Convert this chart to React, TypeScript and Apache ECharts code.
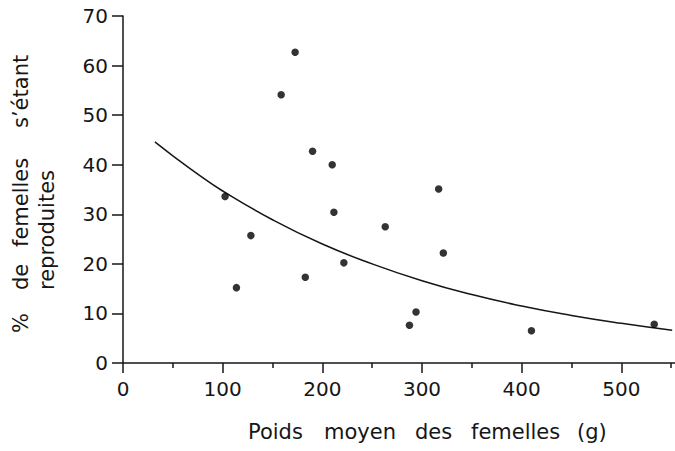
import React, { useEffect, useRef } from "react";
import * as echarts from "echarts";

// Tick labels
const xTickLabels = [0, 100, 200, 300, 400, 500];
const yTickLabels = [0, 10, 20, 30, 40, 50, 60, 70];

// Observed points: mean female weight (g) vs % of females that reproduced
const weightG = [172.7, 158.7, 190.2, 209.9, 102.4, 211.6, 128.3, 221.6, 182.9, 113.8, 316.7, 263.1, 321.4, 294.0, 287.4, 409.8, 533.0];
const pctReproduced = [62.7, 54.1, 42.7, 40.0, 33.6, 30.4, 25.7, 20.2, 17.3, 15.2, 35.1, 27.5, 22.2, 10.3, 7.6, 6.5, 7.8];

// Fitted curve
const curveWeight = [32, 50, 75, 100, 150, 200, 250, 300, 350, 400, 450, 500, 551];
const curvePct = [44.6, 41.8, 38.1, 34.7, 28.9, 24.0, 20.0, 16.6, 13.8, 11.5, 9.6, 8.0, 6.6];

// Axis titles, word by word
const xTitleWords = ["Poids", "moyen", "des", "femelles", "(g)"];
const yTitleWords1 = ["%", "de", "femelles", "s\u2019\u00e9tant"];
const yTitleWords2 = ["reproduites"];

const FONT = "DejaVu Sans";
const INK = "#161616";

export default function App() {
  const ref = useRef<HTMLDivElement>(null);
  useEffect(() => {
    if (!ref.current) return;
    const chart = echarts.init(ref.current, undefined, { renderer: "svg" });
    const scatterData = weightG.map((x, i) => [x, pctReproduced[i]]);
    const curveData = curveWeight.map((x, i) => [x, curvePct[i]]);

    const xWordLeft = [248, 324, 415, 471, 577];
    const y1WordBottom = [333, 290, 247, 128];
    const y2WordBottom = [290];

    const textStyle = { fontSize: 21, fontFamily: FONT, fill: INK };
    const graphics: any[] = [];
    xTitleWords.forEach((w, i) =>
      graphics.push({
        type: "text",
        x: xWordLeft[i],
        y: 432,
        style: { ...textStyle, text: w, align: "left", textAlign: "left", verticalAlign: "middle", textVerticalAlign: "middle" },
      })
    );
    yTitleWords1.forEach((w, i) =>
      graphics.push({
        type: "text",
        x: 21,
        y: y1WordBottom[i],
        rotation: Math.PI / 2,
        style: { ...textStyle, text: w, align: "left", textAlign: "left", verticalAlign: "middle", textVerticalAlign: "middle" },
      })
    );
    yTitleWords2.forEach((w, i) =>
      graphics.push({
        type: "text",
        x: 47,
        y: y2WordBottom[i],
        rotation: Math.PI / 2,
        style: { ...textStyle, text: w, align: "left", textAlign: "left", verticalAlign: "middle", textVerticalAlign: "middle" },
      })
    );

    chart.setOption({
      animation: false,
      backgroundColor: "#ffffff",
      grid: { left: 123, right: 0, top: 16, bottom: 88, containLabel: false },
      xAxis: {
        type: "value",
        min: 0,
        max: 600,
        interval: 100,
        axisLine: { show: true, lineStyle: { color: INK, width: 1.5 } },
        axisTick: { show: true, length: 10, lineStyle: { color: INK, width: 1.5 } },
        minorTick: { show: true, splitNumber: 2, length: 5, lineStyle: { color: INK, width: 1.5 } },
        splitLine: { show: false },
        minorSplitLine: { show: false },
        axisLabel: {
          margin: 16,
          color: INK,
          fontSize: 20,
          fontFamily: FONT,
          formatter: (v: number) => (xTickLabels.includes(v) ? String(v) : ""),
        },
      },
      yAxis: {
        type: "value",
        min: 0,
        max: 70,
        interval: 10,
        axisLine: { show: true, lineStyle: { color: INK, width: 1.5 } },
        axisTick: { show: true, length: 11, lineStyle: { color: INK, width: 1.5 } },
        splitLine: { show: false },
        axisLabel: {
          margin: 15,
          color: INK,
          fontSize: 20,
          fontFamily: FONT,
          formatter: (v: number) => (yTickLabels.includes(v) ? String(v) : ""),
        },
      },
      series: [
        {
          type: "line",
          data: curveData,
          smooth: true,
          showSymbol: false,
          lineStyle: { color: INK, width: 1.5 },
          z: 2,
        },
        {
          type: "scatter",
          data: scatterData,
          symbol: "circle",
          symbolSize: 7.5,
          itemStyle: { color: "#000000" },
          z: 3,
        },
      ],
      graphic: graphics,
    });
    return () => chart.dispose();
  }, []);
  return (
    <div
      style={{ position: "fixed", left: 0, top: 0, width: 675, height: 451, overflow: "hidden", background: "#fff" }}
    >
      <div ref={ref} style={{ position: "absolute", left: 0, top: 0, width: 724, height: 451 }} />
    </div>
  );
}
